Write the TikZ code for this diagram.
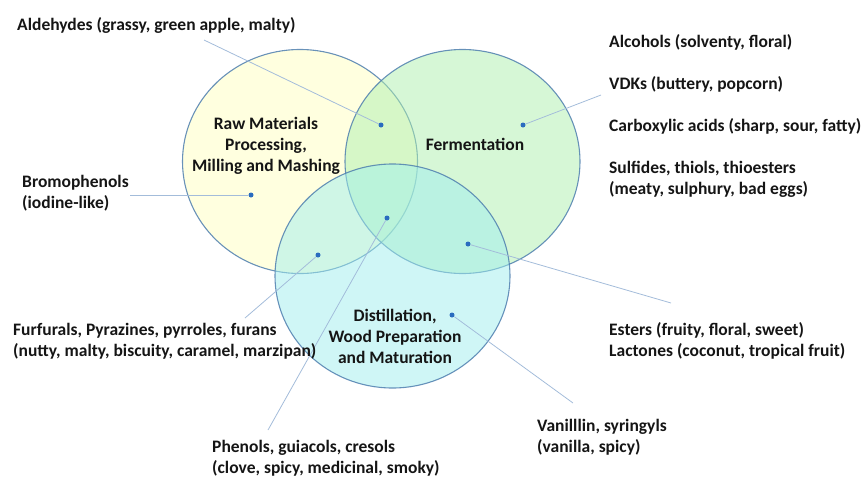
\documentclass[tikz,border=0pt]{standalone}
\usepackage{fontspec}
\setmainfont{Carlito}
\usetikzlibrary{positioning,shapes.geometric}
\definecolor{rimblue}{HTML}{4F7FAF}
\definecolor{leaderblue}{HTML}{A3BCDA}
\definecolor{spotblue}{HTML}{2A6CBF}
\definecolor{inkgrey}{HTML}{151515}
\definecolor{rawyellow}{HTML}{FFFFC0}
\definecolor{fermgreen}{HTML}{AEF0AE}
\definecolor{distcyan}{HTML}{A0EEEE}
\tikzset{
    phase/.style={ellipse,minimum width=235pt,minimum height=224pt,inner sep=0pt,
        draw=rimblue,draw opacity=0.85,line width=1.1pt,fill opacity=0.5},
    phasetext/.style={font=\bfseries\fontsize{17.5}{21}\selectfont,align=center,text=inkgrey},
    flavour/.style={font=\bfseries\fontsize{17.5}{21}\selectfont,align=left,anchor=west,
        inner sep=0pt,text=inkgrey},
    spot/.style={circle,fill=spotblue,minimum size=5pt,inner sep=0pt},
    leader/.style={draw=leaderblue,line width=0.8pt}
}
\begin{document}
\begin{tikzpicture}[x=1pt,y=-1pt]
    \useasboundingbox (0,0) rectangle (862,477);
    \node[phase,fill=rawyellow] at (300,161.5) (raw) {};
    \node[phase,fill=fermgreen] at (462.5,161.5) (ferm) {};
    \node[phase,fill=distcyan] at (392.5,276) (dist) {};
    \node[phasetext] at (266,146) (rawlbl) {Raw Materials\\Processing,\\Milling and Mashing};
    \node[phasetext] at (475,144) (fermlbl) {Fermentation};
    \node[phasetext] at (395,336) (distlbl) {Distillation,\\Wood Preparation\\and Maturation};
    \node[spot] at (381,125) (sald) {};
    \node[spot] at (251,195) (sbro) {};
    \node[spot] at (523,125) (svdk) {};
    \node[spot] at (387,218) (sphe) {};
    \node[spot] at (318,255) (sfur) {};
    \node[spot] at (468,244) (sest) {};
    \node[spot] at (452,315) (svan) {};
    \coordinate (eald) at (204,40);
    \coordinate (ebro) at (130,195);
    \coordinate (evdk) at (601,95);
    \coordinate (ephe) at (268,430);
    \coordinate (efur) at (245,318);
    \coordinate (eest) at (671,303);
    \coordinate (evan) at (573,403);
    \path[leader]
    (sald) edge (eald)
    (sbro) edge (ebro)
    (svdk) edge (evdk)
    (sphe) edge (ephe)
    (sfur) edge (efur)
    (sest) edge (eest)
    (svan) edge (evan)
    ;
    \node[flavour] at (17,25.5) (ald) {Aldehydes (grassy, green apple, malty)};
    \node[flavour] at (22,193.5) (bro) {Bromophenols\\(iodine-like)};
    \node[flavour] at (13,341.5) (fur) {Furfurals, Pyrazines, pyrroles, furans\\(nutty, malty, biscuity, caramel, marzipan)};
    \node[flavour] at (212,458.5) (phe) {Phenols, guiacols, cresols\\(clove, spicy, medicinal, smoky)};
    \node[flavour] at (537,437) (van) {Vanilllin, syringyls\\(vanilla, spicy)};
    \node[flavour] at (609,341) (est) {Esters (fruity, floral, sweet)\\Lactones (coconut, tropical fruit)};
    \node[flavour] at (609,42.5) (alc) {Alcohols (solventy, floral)};
    \node[flavour] at (609,84.5) (vdk) {VDKs (buttery, popcorn)};
    \node[flavour] at (609,126) (car) {Carboxylic acids (sharp, sour, fatty)};
    \node[flavour] at (609,179) (sul) {Sulfides, thiols, thioesters\\(meaty, sulphury, bad eggs)};
\end{tikzpicture}
\end{document}
